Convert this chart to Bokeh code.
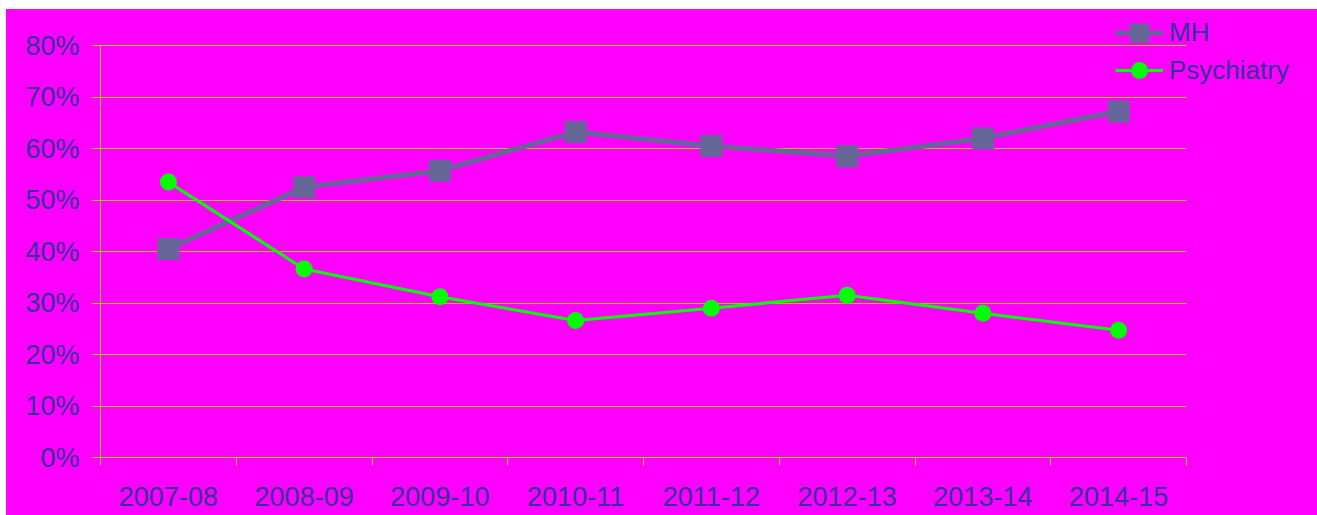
from bokeh.plotting import figure
from bokeh.models import (FixedTicker, NumeralTickFormatter, Range1d, Legend, LegendItem,
                          ColumnDataSource)
from bokeh.embed import file_html
from bokeh.resources import INLINE

categories = ["2007-08", "2008-09", "2009-10", "2010-11", "2011-12", "2012-13", "2013-14", "2014-15"]
mh = [0.405, 0.525, 0.557, 0.632, 0.605, 0.585, 0.620, 0.672]
psychiatry = [0.535, 0.366, 0.312, 0.266, 0.290, 0.315, 0.280, 0.247]
y_ticks = [0.0, 0.1, 0.2, 0.3, 0.4, 0.5, 0.6, 0.7, 0.8]

FONT = "Liberation Sans"
TEXT = "#333399"
AXIS = "#99CC00"
BG = "#FF00FF"
FS = "27px"

n = len(categories)
xs = [i + 0.5 for i in range(n)]
src = ColumnDataSource(dict(x=xs, mh=mh, psy=psychiatry))

# frame: 1200 x 447 px; data area (8 categories x 0..80%) occupies 1086 x 412 px of it
FW, FH = 1200, 447
x_end = n * FW / 1086.0
y_end = 0.8 * FH / 412.0

p = figure(width=1311, height=506, frame_width=FW, frame_height=FH,
           min_border_left=94, min_border_right=17, min_border_top=1, min_border_bottom=58,
           x_range=Range1d(0, x_end), y_range=Range1d(0, y_end),
           output_backend="svg", toolbar_location=None, margin=(9, 0, 0, 6))
p.background_fill_color = None
p.border_fill_color = None
p.styles = {"background-color": BG}
p.outline_line_color = None

# x axis: labels at category centres, ticks at boundaries
p.xaxis.bounds = (0, n)
p.xaxis.ticker = FixedTicker(ticks=xs, minor_ticks=list(range(n + 1)))
p.xaxis.major_label_overrides = {x: c for x, c in zip(xs, categories)}
p.xaxis.major_tick_out = 0
p.xaxis.major_tick_in = 0
p.xaxis.minor_tick_out = 8
p.xaxis.minor_tick_in = 0
p.xaxis.minor_tick_line_color = AXIS
p.xaxis.axis_line_color = AXIS
p.xaxis.major_label_standoff = 21
p.xgrid.visible = False

p.yaxis.bounds = (0, 0.8)
p.yaxis.ticker = FixedTicker(ticks=y_ticks)
p.yaxis.formatter = NumeralTickFormatter(format="0%")
p.yaxis.major_tick_out = 9
p.yaxis.major_tick_in = 0
p.yaxis.minor_tick_line_color = None
p.yaxis.major_tick_line_color = AXIS
p.yaxis.axis_line_color = AXIS
p.yaxis.major_label_standoff = 12
p.ygrid.ticker = FixedTicker(ticks=y_ticks)
p.ygrid.grid_line_color = AXIS
p.ygrid.cross_bounds = (0, n)

for ax in (p.xaxis, p.yaxis):
    ax.major_label_text_font = FONT
    ax.major_label_text_font_size = FS
    ax.major_label_text_color = TEXT

l1 = p.line("x", "mh", source=src, line_color="#666699", line_width=5)
s1 = p.scatter("x", "mh", source=src, marker="square", size=22, fill_color="#666699",
               line_color=None)
l2 = p.line("x", "psy", source=src, line_color="#00FF00", line_width=3)
s2 = p.scatter("x", "psy", source=src, marker="circle", size=17, fill_color="#00FF00",
               line_color=None)

def make_legend(label, rends, gh, loc):
    lg = Legend(items=[LegendItem(label=label, renderers=rends)], location=loc,
                glyph_width=48, glyph_height=gh, padding=0, margin=0, spacing=0,
                label_standoff=6, border_line_color=None, background_fill_alpha=0,
                label_text_font=FONT, label_text_font_size="26px", label_text_color=TEXT)
    p.add_layout(lg, "center")

make_legend("MH", [l1, s1], 55, (1015, 397))
make_legend("Psychiatry", [l2, s2], 42, (1015, 366))

open("out.html", "w").write(file_html(p, INLINE))
